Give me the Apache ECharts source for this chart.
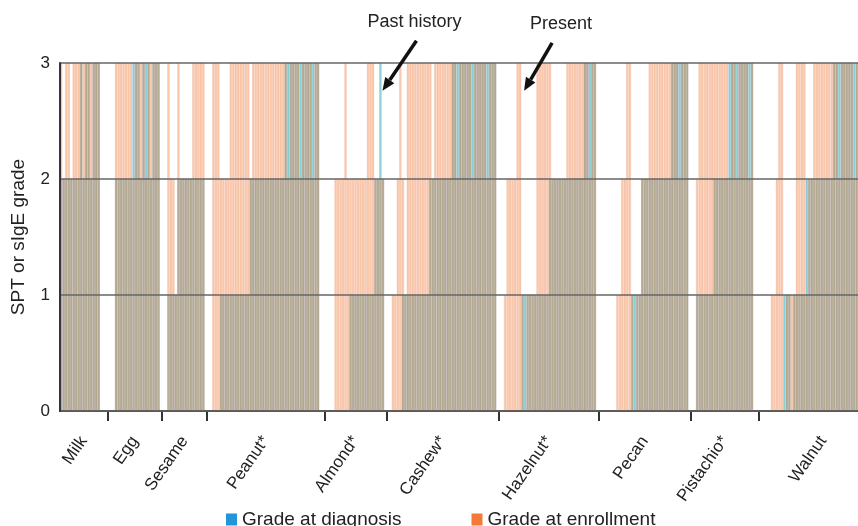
<!DOCTYPE html>
<html>
<head>
<meta charset="utf-8">
<script src="https://cdn.jsdelivr.net/npm/echarts@6/dist/echarts.min.js"></script>
<style>html,body{margin:0;padding:0;background:#fff}#c{width:858px;height:526px}</style>
</head>
<body>
<div id="c"></div>
<script>
// ---- data (grade per patient) ----
const foods = ['Milk','Egg','Sesame','Peanut*','Almond*','Cashew*','Hazelnut*','Pecan','Pistachio*','Walnut'];
const yTicks = [0,1,2,3];

const milkDiag = [2,2,2,2,2,2,2,2,3,2,3,3,2,3,3,3,0,0,0];
const milkEnr  = [3,2,3,3,2,3,3,3,3,3,3,3,3,3,3,3,0,0,0];
const eggDiag = [0,0,0,2,2,2,2,2,2,2,3,3,3,2,3,3,3,2,3,3,3,0];
const eggEnr  = [0,0,0,3,3,3,3,3,3,3,2,3,3,3,3,2,3,3,3,3,3,0];
const sesameDiag = [0,0,1,1,1,1,2,2,2,2,2,2,2,2,2,2,2,0];
const sesameEnr  = [0,0,3,2,2,1,3,2,2,2,2,2,3,3,3,3,3,0];
const peanutDiag = [0,0,0,0,0,1,1,1,1,1,1,1,1,1,1,1,1,2,2,2,2,2,2,2,2,2,2,2,2,2,2,3,3,3,3,3,3,3,3,3,3,3,3,3,3,0,0];
const peanutEnr  = [0,0,3,3,3,2,2,2,2,3,3,3,3,3,3,3,3,2,3,3,3,3,3,3,3,3,3,3,3,3,3,3,2,3,3,3,3,2,3,3,3,3,2,3,3,0,0];
const almondDiag = [0,0,0,0,0,0,0,0,0,0,1,1,1,1,1,1,1,1,1,1,2,2,3,2,0];
const almondEnr  = [0,0,0,0,2,2,2,2,3,2,2,2,2,2,2,2,2,3,3,3,2,2,2,2,0];
const cashewDiag = [0,0,0,0,0,0,1,1,1,1,1,1,1,1,1,1,1,2,2,2,2,2,2,2,2,2,3,3,3,3,3,3,3,3,3,3,3,3,3,3,3,3,3,3,0];
const cashewEnr  = [0,0,1,1,2,3,2,1,3,3,3,3,3,3,3,3,3,3,2,3,3,3,3,3,3,3,3,3,2,3,3,3,3,3,2,3,3,3,3,3,2,3,3,3,0];
const hazelDiag = [0,0,0,0,0,0,0,0,0,1,1,1,1,1,1,1,1,1,1,1,2,2,2,2,2,2,2,2,2,2,2,2,2,2,3,3,3,3,3,0];
const hazelEnr  = [0,0,1,2,2,2,2,3,3,1,0,1,1,1,1,3,3,3,3,3,3,2,2,2,2,2,2,3,3,3,3,3,3,3,3,3,2,3,3,0];
const pecanDiag = [0,0,0,0,0,0,0,0,0,0,0,0,0,1,1,1,1,2,2,2,2,2,2,2,2,2,2,2,2,3,3,3,3,3,3,3,0];
const pecanEnr  = [0,0,0,0,0,0,0,1,1,2,2,3,3,1,0,1,1,2,2,2,3,3,3,3,3,3,3,3,3,3,3,3,2,3,3,3,0];
const pistDiag = [0,0,1,1,1,1,1,1,1,2,2,2,2,2,2,3,3,3,3,3,3,3,3,3,3,0,0];
const pistEnr  = [0,0,2,3,3,3,3,3,3,3,3,3,3,3,3,2,3,3,2,3,3,3,3,2,3,0,0];
const walnutDiag = [0,0,0,0,0,0,0,0,0,0,1,1,1,0,1,1,1,1,1,2,2,2,2,2,2,2,2,2,2,2,3,3,3,3,3,3,3,3,3,3];
const walnutEnr  = [0,0,0,0,0,1,1,2,3,3,0,1,1,1,1,3,3,3,3,1,2,2,3,3,3,3,3,3,3,3,3,3,2,3,3,3,3,3,2,3];

// food label positions along the patient axis (Walnut is cut off at the right edge)
const labelSlots = [9.5, 30, 50, 82.5, 118.5, 153.5, 196, 234.5, 266.5, 306];

// ---- build ----
const groupsDiag = [milkDiag,eggDiag,sesameDiag,peanutDiag,almondDiag,cashewDiag,hazelDiag,pecanDiag,pistDiag,walnutDiag];
const groupsEnr  = [milkEnr,eggEnr,sesameEnr,peanutEnr,almondEnr,cashewEnr,hazelEnr,pecanEnr,pistEnr,walnutEnr];
const diagAll = [].concat(...groupsDiag);
const enrAll = [].concat(...groupsEnr);
const N = diagAll.length;
const patients = diagAll.map((_, i) => 'P' + (i + 1));
const starts = [];
let acc = 0;
groupsDiag.forEach(g => { starts.push(acc); acc += g.length; });
const boundaries = starts.slice(1);

const FONT = "'Liberation Sans', Arial, Helvetica, sans-serif";
const chart = echarts.init(document.getElementById('c'));
chart.setOption({
  animation: false,
  textStyle: {fontFamily: FONT},
  grid: {left: 60, right: 0, top: 63, bottom: 115, containLabel: false, outerBoundsMode: 'none'},
  legend: {
    left: 221, top: 505,
    itemWidth: 11, itemHeight: 12, itemGap: 70,
    icon: 'rect',
    textStyle: {fontSize: 19, color: '#222', fontFamily: FONT},
    data: [
      {name: 'Grade at diagnosis', itemStyle: {color: '#2196d6', opacity: 1, borderWidth: 0}},
      {name: 'Grade at enrollment', itemStyle: {color: '#f37a36', opacity: 1, borderWidth: 0}}
    ]
  },
  xAxis: [
    {
      type: 'category', data: patients, gridIndex: 0,
      axisLine: {show: true, lineStyle: {color: '#333', width: 2}},
      axisTick: {show: false}, axisLabel: {show: false}, splitLine: {show: false}
    },
    {
      type: 'value', min: 0, max: N, gridIndex: 0, position: 'bottom',
      axisLine: {show: false}, splitLine: {show: false},
      axisTick: {show: true, length: 10, lineStyle: {color: '#333', width: 2}, customValues: boundaries},
      axisLabel: {
        show: true, rotate: 55, fontSize: 17, color: '#222', margin: 27, fontFamily: FONT,
        customValues: labelSlots,
        formatter: v => { const k = labelSlots.indexOf(v); return k >= 0 ? foods[k] : ''; }
      }
    }
  ],
  yAxis: {
    type: 'value', min: 0, max: 3, interval: 1, z: 5,
    name: 'SPT or sIgE grade', nameLocation: 'middle', nameGap: 32, nameRotate: 90,
    nameTextStyle: {fontSize: 19, color: '#222', fontFamily: FONT},
    axisLine: {show: true, lineStyle: {color: '#334', width: 2}},
    axisTick: {show: false},
    axisLabel: {fontSize: 17, color: '#222', margin: 10, fontFamily: FONT,
      formatter: v => yTicks.includes(v) ? String(v) : ''},
    splitLine: {show: true, lineStyle: {color: '#666', width: 1.6}}
  },
  series: [
    {
      name: 'Grade at diagnosis', type: 'bar', data: diagAll,
      barGap: '-100%', barCategoryGap: '10%',
      itemStyle: {color: 'rgba(0,160,175,0.45)', borderColor: 'rgba(20,120,170,0.3)', borderWidth: 0.5}, z: 2
    },
    {
      name: 'Grade at enrollment', type: 'bar', data: enrAll,
      barGap: '-100%', barCategoryGap: '10%',
      itemStyle: {color: 'rgba(242,124,60,0.4)', borderColor: 'rgba(230,100,40,0.3)', borderWidth: 0.5}, z: 3
    }
  ]
});

// annotations pointing at specific bars
const pastIdx = starts[4] + 22;   // almond patient with past-history grade 3
const presentIdx = starts[6] + 8; // hazelnut patient with present grade 3
function arrow(tip, dx, dy, label, tdx) {
  const tail = [tip[0] + dx, tip[1] + dy];
  const vx = tip[0] - tail[0], vy = tip[1] - tail[1];
  const L = Math.hypot(vx, vy), ux = vx / L, uy = vy / L;
  const hl = 13, hw = 11;
  const bx = tip[0] - ux * hl, by = tip[1] - uy * hl;
  const nx = -uy, ny = ux;
  return [
    {type: 'line', shape: {x1: tail[0], y1: tail[1], x2: bx, y2: by}, style: {stroke: '#111', lineWidth: 3.5}, z: 10},
    {type: 'polygon', shape: {points: [[tip[0], tip[1]], [bx + nx * hw / 2, by + ny * hw / 2], [bx - nx * hw / 2, by - ny * hw / 2]]}, style: {fill: '#111'}, z: 10},
    {type: 'text', x: tail[0] + tdx, y: tail[1] - 19, style: {text: label, fontSize: 18, fill: '#222', fontFamily: FONT, align: 'center', verticalAlign: 'middle'}, z: 10}
  ];
}
const tipPast = chart.convertToPixel({xAxisIndex: 0, yAxisIndex: 0}, [pastIdx, 2.76]);
const tipPresent = chart.convertToPixel({xAxisIndex: 0, yAxisIndex: 0}, [presentIdx, 2.76]);
tipPast[0] += 2; tipPresent[0] += 4;
chart.setOption({graphic: [].concat(arrow(tipPast, 34, -50, 'Past history', -2), arrow(tipPresent, 28, -48, 'Present', 9))});
</script>
</body>
</html>
